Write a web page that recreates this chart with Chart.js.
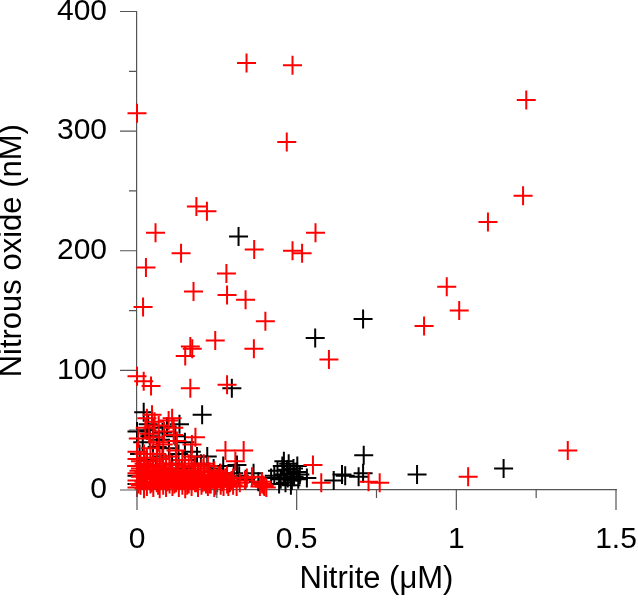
<!DOCTYPE html>
<html>
<head>
<meta charset="utf-8">
<script src="https://cdn.jsdelivr.net/npm/chart.js@4/dist/chart.umd.min.js"></script>
<style>
  html, body { margin: 0; padding: 0; background: #fff; }
  #wrap { width: 638px; height: 609px; }
</style>
</head>
<body>
<div id="wrap"><canvas id="scatter" width="638" height="609"></canvas></div>
<script>
// axis ticks
const xMajorTicks = [0, 0.5, 1, 1.5];
const xMinorTicks = [0.25, 0.75, 1.25];
const yMajorTicks = [0, 100, 200, 300, 400];
const yMinorTicks = [50, 150, 250, 350];

// black series: nitrite (uM) and nitrous oxide (nM)
const blackNitrite = [
  0.318, 0.558, 0.708, 0.297, 0.204, 0.021, 0.133, 0.000, 0.031, 0.094, 0.063, 0.188,
  0.313, 0.365, 0.303, 0.532, 0.710, 0.616, 0.642, 0.652, 0.694, 0.708, 0.877, 1.148,
  0.420, 0.430, 0.440, 0.445, 0.450, 0.455, 0.460, 0.460, 0.465, 0.470, 0.472, 0.475,
  0.480, 0.482, 0.485, 0.490, 0.492, 0.500, 0.502, 0.505, 0.510,
  0.000, 0.000, 0.000, 0.008, 0.018, 0.030, 0.040, 0.050, 0.060, 0.070, 0.080, 0.090,
  0.100, 0.110, 0.120, 0.130, 0.140, 0.150, 0.160, 0.170, 0.180, 0.190, 0.200, 0.210,
  0.220, 0.230, 0.240, 0.250, 0.260, 0.270, 0.280, 0.290, 0.320, 0.340, 0.380, 0.035,
  0.050, 0.080, 0.150
];
const blackN2O = [
  212, 127, 143, 85, 63, 65, 55, 49, 50, 53, 36, 28,
  21, 14, 14, 10, 29, 8, 13, 12, 11, 14, 13, 18,
  10, 12, 16, 5, 9, 20, 13, 24, 6, 17, 10, 22,
  14, 4, 8, 18, 11, 15, 20, 9, 13,
  20, 12, 5, 30, 40, 25, 45, 30, 20, 42, 28, 15,
  35, 22, 45, 30, 18, 25, 12, 32, 20, 10, 22, 15,
  28, 12, 18, 8, 14, 20, 10, 6, 12, 9, 7, 55,
  52, 48, 40
];

// red series: nitrite (uM) and nitrous oxide (nM)
const redNitrite = [
  0.000, 0.343, 0.487, 0.469, 1.219, 1.209, 1.099, 0.186, 0.219, 0.058, 0.559, 0.138,
  0.367, 0.487, 0.517, 0.028, 0.280, 0.177, 0.282, 0.340, 0.019, 0.402, 0.970, 1.009,
  0.899, 0.245, 0.167, 0.173, 0.151, 0.366, 0.601, 0.000, 0.021, 0.044, 0.167, 0.282,
  0.551, 0.577, 1.037, 1.349, 0.725, 0.760, 0.399, 0.391, 0.360, 0.344, 0.397,
  0.385, 0.392, 0.405,
  0.047, 0.031, 0.099, 0.110, 0.115, 0.183, 0.277, 0.334, 0.172, 0.000, 0.004, 0.068,
  0.026, 0.068, 0.115, 0.209, 0.308, 0.055, 0.085, 0.038, 0.125,
  0.000, 0.000, 0.000, 0.000, 0.000, 0.011, 0.011, 0.011, 0.011,
  0.022, 0.022, 0.022, 0.022, 0.022, 0.031, 0.031, 0.031, 0.031,
  0.042, 0.042, 0.042, 0.042, 0.051, 0.051, 0.051, 0.051, 0.051,
  0.062, 0.062, 0.062, 0.062, 0.071, 0.071, 0.071, 0.071,
  0.082, 0.082, 0.082, 0.082, 0.091, 0.091, 0.091, 0.091,
  0.102, 0.102, 0.102, 0.102, 0.111, 0.111, 0.111,
  0.122, 0.122, 0.122, 0.122, 0.131, 0.131, 0.131,
  0.142, 0.142, 0.142, 0.142, 0.151, 0.151, 0.151,
  0.162, 0.162, 0.162, 0.171, 0.171, 0.171, 0.171,
  0.182, 0.182, 0.182, 0.191, 0.191, 0.191,
  0.202, 0.202, 0.202, 0.211, 0.211, 0.222, 0.222, 0.222,
  0.231, 0.231, 0.242, 0.242, 0.242, 0.251, 0.251,
  0.262, 0.262, 0.271, 0.271, 0.282, 0.282, 0.292,
  0.301, 0.301, 0.322, 0.338,
  0.005, 0.016, 0.027, 0.036, 0.046, 0.057, 0.066, 0.076, 0.087, 0.096,
  0.106, 0.117, 0.126, 0.136, 0.146, 0.157, 0.166, 0.176, 0.187, 0.196,
  0.206, 0.216, 0.226, 0.236, 0.246, 0.256, 0.266, 0.276, 0.286, 0.296,
  0.006, 0.026, 0.045, 0.065, 0.086, 0.105, 0.125, 0.145, 0.165, 0.185,
  0.205, 0.228, 0.248, 0.268, 0.312
];
const redN2O = [
  315, 357, 355, 291, 326, 246, 224, 237, 233, 215, 215, 198,
  201, 200, 198, 186, 181, 166, 163, 159, 153, 141, 170, 150,
  137, 125, 120, 118, 112, 118, 109, 95, 91, 87, 85, 88,
  21, 6, 11, 33, 7, 6, 3, 7, 11, 10, 4,
  3, 5, 2,
  63, 60, 58, 60, 46, 44, 33, 33, 38, 32, 43, 40,
  52, 54, 52, 22, 24, 57, 49, 47, 41,
  2, 8, 14, 20, 26, 4, 11, 18, 24,
  1, 7, 15, 22, 30, 3, 10, 19, 27,
  5, 12, 21, 35, 2, 9, 16, 24, 44,
  6, 13, 20, 30, 1, 8, 17, 26,
  4, 11, 19, 38, 2, 7, 14, 22,
  5, 12, 18, 28, 3, 9, 16,
  6, 13, 21, 33, 2, 10, 17,
  4, 8, 15, 25, 1, 11, 19,
  5, 13, 22, 3, 9, 16, 28,
  6, 12, 20, 2, 8, 15,
  4, 10, 18, 7, 13, 3, 11, 20,
  5, 9, 2, 12, 16, 6, 10,
  4, 14, 8, 3, 5, 12, 7,
  4, 10, 6, 8,
  5, 12, 9, 16, 6, 13, 4, 10, 15, 7,
  11, 5, 14, 8, 12, 4, 9, 14, 6, 11,
  8, 5, 15, 9, 4, 12, 7, 10, 3, 8,
  16, 13, 10, 14, 9, 15, 10, 12, 8, 7,
  6, 5, 4, 9, 3
];

const toPoints = (xs, ys) => xs.map((x, i) => ({ x: x, y: ys[i] }));

const FONT = '"Liberation Sans", Arial, Helvetica, sans-serif';
const AXIS_COLOR = '#555';

// outward major/minor tick marks, placed through the chart scales
const tickMarks = {
  id: 'tickMarks',
  afterDraw(chart) {
    const { ctx, chartArea, scales } = chart;
    ctx.save();
    ctx.strokeStyle = AXIS_COLOR;
    ctx.lineWidth = 1.2;
    ctx.beginPath();
    const xTick = (v, len) => {
      const px = scales.x.getPixelForValue(v);
      ctx.moveTo(px, chartArea.bottom);
      ctx.lineTo(px, chartArea.bottom + len);
    };
    const yTick = (v, len) => {
      const py = scales.y.getPixelForValue(v);
      ctx.moveTo(chartArea.left - len, py);
      ctx.lineTo(chartArea.left, py);
    };
    xMajorTicks.forEach(v => xTick(v, 20));
    xMinorTicks.forEach(v => xTick(v, 8));
    yMajorTicks.forEach(v => yTick(v, 17));
    yMinorTicks.forEach(v => yTick(v, 8));
    ctx.stroke();
    ctx.restore();
  }
};

new Chart(document.getElementById('scatter'), {
  type: 'scatter',
  data: {
    datasets: [
      {
        label: 'red',
        data: toPoints(redNitrite, redN2O),
        pointStyle: 'cross',
        radius: 9.5,
        borderColor: '#ff0000',
        borderWidth: 2,
        clip: false
      },
      {
        label: 'black',
        data: toPoints(blackNitrite, blackN2O),
        pointStyle: 'cross',
        radius: 9.5,
        borderColor: '#000000',
        borderWidth: 2,
        clip: false
      }
    ]
  },
  options: {
    responsive: false,
    animation: false,
    layout: { padding: { top: 11, right: 22, bottom: 0, left: 0 } },
    plugins: { legend: { display: false }, tooltip: { enabled: false } },
    scales: {
      x: {
        type: 'linear',
        min: 0,
        max: 1.5,
        afterBuildTicks: (scale) => { scale.ticks = xMajorTicks.map(v => ({ value: v })); },
        afterFit: (scale) => {
          scale.height = 119;
          scale.paddingLeft = 0;
          scale.paddingRight = 0;
        },
        grid: { display: false, drawTicks: false },
        border: { display: true, color: AXIS_COLOR, width: 1.2 },
        ticks: {
          color: '#000',
          padding: 32,
          maxRotation: 0,
          font: { family: FONT, size: 30 },
          callback: (v) => String(v)
        },
        title: {
          display: true,
          text: 'Nitrite (μM)',
          color: '#000',
          font: { family: FONT, size: 31, lineHeight: 1.2 },
          padding: { top: 0, bottom: 11 }
        }
      },
      y: {
        type: 'linear',
        min: 0,
        max: 400,
        afterBuildTicks: (scale) => { scale.ticks = yMajorTicks.map(v => ({ value: v })); },
        afterFit: (scale) => {
          scale.width = 137;
          scale.paddingTop = 0;
          scale.paddingBottom = 0;
        },
        grid: { display: false, drawTicks: false },
        border: { display: true, color: AXIS_COLOR, width: 1.2 },
        ticks: {
          color: '#000',
          padding: 30,
          font: { family: FONT, size: 30 },
          callback: (v) => String(v)
        },
        title: {
          display: true,
          text: 'Nitrous oxide (nM)',
          color: '#000',
          font: { family: FONT, size: 31, lineHeight: 0.8 },
          padding: { top: 0, bottom: 0 }
        }
      }
    }
  },
  plugins: [tickMarks]
});
</script>
</body>
</html>
